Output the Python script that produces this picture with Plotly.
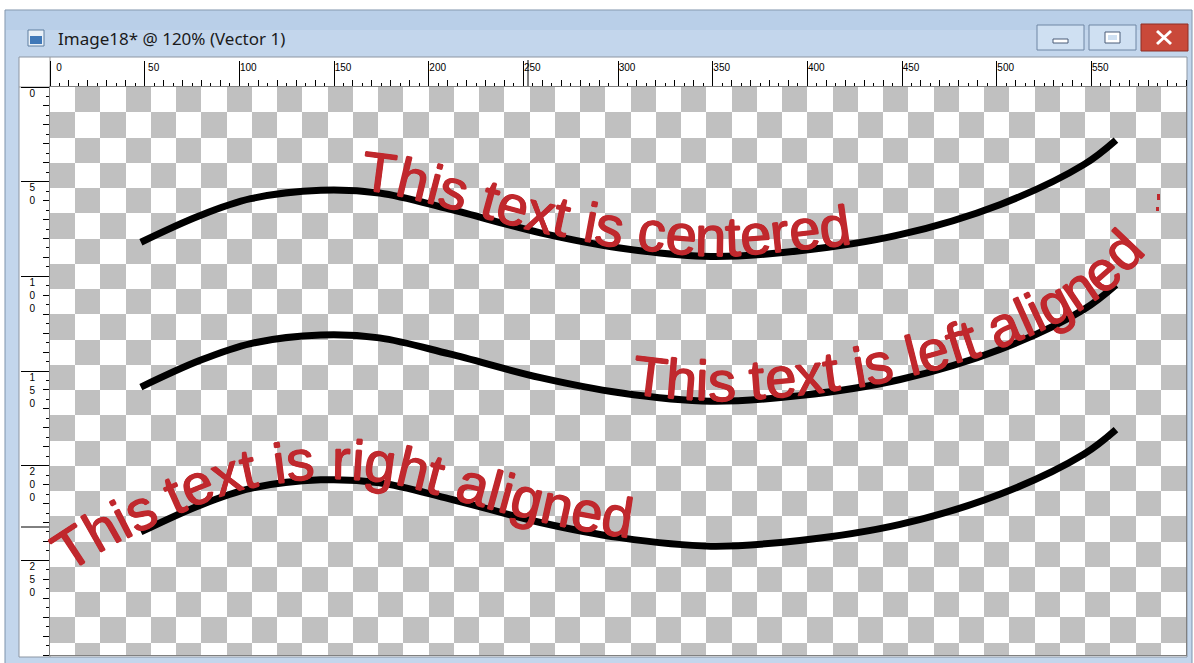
import math
import numpy as np
import plotly.graph_objects as go

# ---------------- values (document units, 600 x 300 canvas) ----------------
curve_x = [48, 79, 106, 143, 174, 211, 259, 301, 349, 396, 449, 502, 546, 563]
curve_top_y = [82, 68, 59, 54.5, 56, 64.5, 77, 85, 89.5, 86.5, 78, 62, 41, 28]
curve_mid_y = [158.5, 144.5, 135.5, 131, 132.5, 141, 153.5, 161.5, 166, 163, 154.5, 138.5, 117.5, 104.5]
curve_bot_y = [235, 221, 212, 207.5, 209, 217.5, 230, 238, 242.5, 239.5, 231, 215, 194, 181]
path_texts = ["This text is centered", "This text is left aligned", "This text is right aligned"]
ruler_x_labels = [0, 50, 100, 150, 200, 250, 300, 350, 400, 450, 500, 550]
ruler_y_labels = [0, 50, 100, 150, 200, 250]
title_text = "Image18* @ 120% (Vector 1)"

# ---------------- layout constants ----------------
W, H = 1194, 663
CANVAS = dict(l=50, t=87, r=1186, b=655)       # pixel box of the image canvas
DOC_W, DOC_H = 600, 300
SCALE = (CANVAS["r"] - CANVAS["l"]) / DOC_W     # px per document unit
CELL = DOC_W / 45                                # checker square
FONT_PX = 56
EM = FONT_PX / SCALE
RED = "#c0282d"
TEXT_FONT = "Arial, Liberation Sans, sans-serif"
TEXT_SHADOW = ", ".join(f"{dx}px {dy}px 0 {RED}" for dx, dy in
                        [(0.7, 0), (-0.7, 0), (0, 0.7), (0, -0.7)])
# how each text sits on its path: (mode, x where the text starts / ends)
TEXT_ANCHORS = [("start", 163.5), ("start", 306.5), ("end", 306.3)]
ADV = {'T': .611, 'h': .556, 'i': .222, 's': .5, ' ': .278, 't': .278, 'e': .556, 'x': .5,
       'c': .5, 'n': .556, 'r': .333, 'd': .556, 'l': .222, 'f': .278, 'a': .556, 'g': .556}


def xp(px):
    return (px - CANVAS["l"]) / (CANVAS["r"] - CANVAS["l"])


def yp(py):
    return (CANVAS["b"] - py) / (CANVAS["b"] - CANVAS["t"])


# ---- same spline as plotly's smoothing=1 line, used to lay the letters on the path ----
def _tangent(p0, p1, p2, sm=1.0):
    d1 = p0 - p1
    d2 = p2 - p1
    d1a = (d1 @ d1) ** 0.25
    d2a = (d2 @ d2) ** 0.25
    num = (d2a * d2a * d1 - d1a * d1a * d2) * sm
    den1 = 3 * d2a * (d1a + d2a)
    den2 = 3 * d1a * (d1a + d2a)
    return p1 + num / den1, p1 - num / den2


def path_samples(xs, ys):
    pts = np.column_stack([xs, ys]).astype(float)
    n = len(pts)
    tg = [_tangent(pts[i - 1], pts[i], pts[i + 1]) for i in range(1, n - 1)]
    t = np.linspace(0, 1, 120)[:, None]
    out = []
    a, c, b = pts[0], tg[0][0], pts[1]
    out.append((1 - t) ** 2 * a + 2 * t * (1 - t) * c + t ** 2 * b)
    for i in range(2, n - 1):
        a, c1, c2, b = pts[i - 1], tg[i - 2][1], tg[i - 1][0], pts[i]
        out.append(((1 - t) ** 3 * a + 3 * (1 - t) ** 2 * t * c1 + 3 * (1 - t) * t ** 2 * c2 + t ** 3 * b)[1:])
    a, c, b = pts[n - 2], tg[n - 3][1], pts[n - 1]
    out.append(((1 - t) ** 2 * a + 2 * t * (1 - t) * c + t ** 2 * b)[1:])
    P = np.vstack(out)
    d = np.diff(P, axis=0)
    s = np.concatenate([[0], np.cumsum(np.hypot(d[:, 0], d[:, 1]))])
    th = np.unwrap(np.arctan2(np.gradient(P[:, 1]), np.gradient(P[:, 0])))
    return s, P[:, 0], P[:, 1], th


def point_at(samp, sv):
    s, X, Y, TH = samp
    L = s[-1]
    K = 100 / SCALE
    if 0 <= sv <= L:
        return np.interp(sv, s, X), np.interp(sv, s, Y), np.interp(sv, s, TH)
    if sv < 0:
        x0, y0, t0 = X[0], Y[0], TH[0]
        k = 1.4 * (np.interp(K, s, TH) - t0) / K
        ds = sv
    else:
        x0, y0, t0 = X[-1], Y[-1], TH[-1]
        k = (t0 - np.interp(L - K, s, TH)) / K
        ds = sv - L
    th = t0 + k * ds
    if abs(k) < 1e-9:
        return x0 + math.cos(t0) * ds, y0 + math.sin(t0) * ds, t0
    return x0 + (math.sin(th) - math.sin(t0)) / k, y0 - (math.cos(th) - math.cos(t0)) / k, th


def letters_on_path(text, samp, mode, xref_val):
    s, X, Y, TH = samp
    total = sum(ADV[ch] for ch in text) * EM
    s_at = float(np.interp(xref_val, X, s))
    cur = s_at if mode == "start" else s_at - total
    anns = []
    lift = 0.3465 * EM + 0.4
    for ch in text:
        w = ADV[ch] * EM
        if ch != " ":
            x, y, th = point_at(samp, cur + w / 2)
            cx = x + math.sin(th) * lift
            cy = y - math.cos(th) * lift
            anns.append(dict(text=ch, x=cx, y=cy, xref="x2", yref="y2", showarrow=False,
                             xanchor="center", yanchor="middle", textangle=math.degrees(th),
                             font=dict(family=TEXT_FONT, size=FONT_PX, color=RED, shadow=TEXT_SHADOW)))
        cur += w
    return anns


fig = go.Figure()

# checkerboard (transparent-canvas background)
n_cols = 45
n_rows = int(math.ceil(DOC_H / CELL))
z = [[(r + c) % 2 for c in range(n_cols)] for r in range(n_rows)]
fig.add_trace(go.Heatmap(z=z, x0=CELL / 2, dx=CELL, y0=CELL / 2, dy=CELL, zmin=0, zmax=1,
                         colorscale=[[0, "#ffffff"], [1, "#c0c0c0"]], showscale=False,
                         hoverinfo="skip", xaxis="x", yaxis="y"))

curves = [curve_top_y, curve_mid_y, curve_bot_y]
annotations = []
for ys, txt, (mode, xv) in zip(curves, path_texts, TEXT_ANCHORS):
    fig.add_trace(go.Scatter(x=curve_x, y=ys, mode="lines", xaxis="x2", yaxis="y2",
                             line=dict(color="black", width=7, shape="spline", smoothing=1),
                             hoverinfo="skip", showlegend=False))
    annotations += letters_on_path(txt, path_samples(curve_x, ys), mode, xv)

# window title
annotations.append(dict(text=title_text, x=xp(56), y=yp(38), xref="paper", yref="paper", showarrow=False,
                        xanchor="left", yanchor="middle",
                        font=dict(family="Noto Sans, Open Sans, sans-serif", size=17, color="#1b1b1b")))

# ---------------- window chrome ----------------
shapes = []


def rect(x0, y0, x1, y1, fill, line=None, lw=1, layer="below"):
    shapes.append(dict(type="rect", xref="paper", yref="paper", x0=xp(x0), x1=xp(x1), y0=yp(y1), y1=yp(y0),
                       fillcolor=fill, line=dict(color=line or fill, width=lw if line else 0), layer=layer))


def seg(x0, y0, x1, y1, color, lw=1, layer="below"):
    shapes.append(dict(type="line", xref="paper", yref="paper", x0=xp(x0), x1=xp(x1), y0=yp(y0), y1=yp(y1),
                       line=dict(color=color, width=lw), layer=layer))


rect(5, 10, 1192, 672, "#c3d6ec", "#7f93ab", 1)            # window frame
rect(6, 11, 1191, 30, "#b9cfe8")                             # title gradient top
rect(19, 57, 1187, 657, "#ffffff", "#8c96a3", 1)             # ruler / canvas well
seg(19, 87, 1187, 87, "#9a9a9a")
seg(50, 57, 50, 657, "#9a9a9a")
# icon
rect(28, 30, 44, 46, "#e8f0f8", "#5f7ea0", 1)
rect(30, 36, 42, 44, "#3f78b8")
# buttons
rect(1037, 25, 1084, 50, "#cfe0f2", "#6f86a4", 1)
rect(1053, 39, 1068, 43, "#ffffff", "#4a5d78", 1)
rect(1089, 25, 1136, 50, "#cfe0f2", "#6f86a4", 1)
rect(1105, 32, 1120, 43, "#ffffff", "#4a5d78", 1)
rect(1108, 35, 1117, 40, "#cfe0f2")
rect(1141, 24, 1188, 51, "#c9493a", "#8e2f25", 1)
seg(1157, 31, 1171, 44, "#ffffff", 3)
seg(1157, 44, 1171, 31, "#ffffff", 3)
# cursor markers in the rulers
seg(528, 60, 528, 86, "#000000", 1, "above")
seg(21, 527, 49, 527, "#000000", 1, "above")
# small red speck at the right of the canvas
rect(1157, 194, 1160, 200, RED, layer="above")
rect(1156, 207, 1159, 211, RED, layer="above")

ruler_font = dict(family="Liberation Sans Narrow, Liberation Sans, sans-serif", size=10, color="black")
y_text = ["<br>".join(list(str(v)) + ["\u00a0"] * (3 - len(str(v)))) for v in ruler_y_labels]

fig.update_layout(
    width=W, height=H,
    margin=dict(l=CANVAS["l"], r=W - CANVAS["r"], t=CANVAS["t"], b=H - CANVAS["b"], pad=0),
    paper_bgcolor="white", plot_bgcolor="white", showlegend=False, hovermode=False,
    xaxis=dict(domain=[0, 1], range=[0, DOC_W], side="top", showgrid=False, zeroline=False,
               showline=True, mirror=True, linecolor="#808080", linewidth=1,
               ticks="outside", tickmode="linear", tick0=0, dtick=10, ticklen=6,
               tickcolor="black", tickwidth=1, showticklabels=False, fixedrange=True),
    yaxis=dict(domain=[0, 1], range=[DOC_H, 0], side="left", showgrid=False, zeroline=False,
               showline=True, mirror=True, linecolor="#808080", linewidth=1,
               ticks="outside", tickmode="linear", tick0=0, dtick=10, ticklen=6,
               tickcolor="black", tickwidth=1, showticklabels=False, fixedrange=True),
    xaxis2=dict(overlaying="x", side="top", range=[0, DOC_W], showgrid=False, zeroline=False,
                showline=False, tickmode="array", tickvals=ruler_x_labels,
                ticktext=[str(v) for v in ruler_x_labels], ticks="outside", ticklen=25,
                tickcolor="black", tickwidth=1, tickfont=ruler_font,
                ticklabelstandoff=-14, ticklabelshift=9,
                minor=dict(ticks="outside", tickmode="linear", tick0=0, dtick=5, ticklen=3,
                           tickcolor="black", tickwidth=1),
                fixedrange=True),
    yaxis2=dict(overlaying="y", side="left", range=[DOC_H, 0], showgrid=False, zeroline=False,
                showline=False, tickmode="array", tickvals=ruler_y_labels, ticktext=y_text,
                ticks="outside", ticklen=28, tickcolor="black", tickwidth=1, tickfont=ruler_font,
                ticklabelstandoff=-16, ticklabelshift=-19,
                minor=dict(ticks="outside", tickmode="linear", tick0=0, dtick=5, ticklen=3,
                           tickcolor="black", tickwidth=1),
                fixedrange=True),
    shapes=shapes,
    annotations=annotations,
)

fig.write_html("out.html", config={"displayModeBar": False, "staticPlot": True},
               post_script="document.body.style.margin='0';document.body.style.padding='0';")
